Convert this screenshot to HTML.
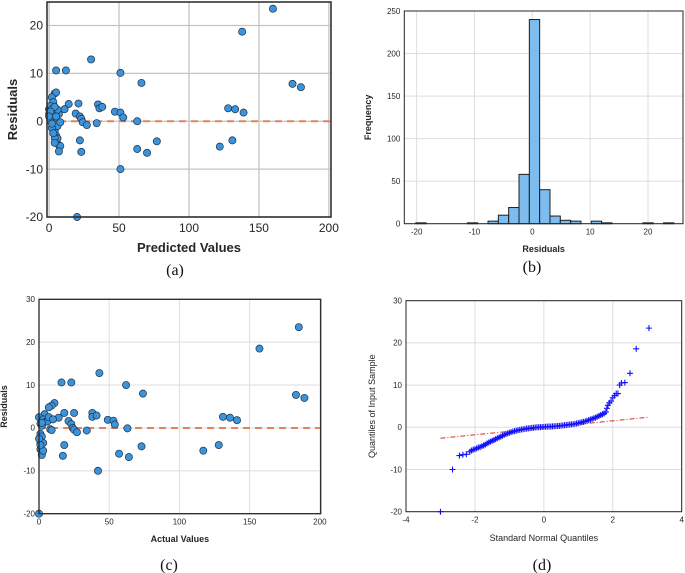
<!DOCTYPE html>
<html><head><meta charset="utf-8"><style>
body{margin:0;background:#fff;width:685px;height:573px;overflow:hidden}
svg{display:block;font-family:"Liberation Sans",sans-serif}
</style></head><body>
<svg id="fig" width="685" height="573" viewBox="0 0 685 573"></svg>
<script>
// Panel (a): predicted vs residuals
const aPred=[160,138,30,5,12,51,66,174,180,4,5,2,3,14,21,35,36,38,11,47,51,53,19,22,23,24,27,34,63,128,133,139,0,1,2,1,3,4,5,5,6,7,8,7,6,8,7,6,3,2,4,22,23,63,70,77,122,131,51,20,0,1,2,5,4,1,3,2,0,4];
const aRes=[23.5,18.7,12.9,10.6,10.6,10.1,8,7.8,7.1,5.8,6,5,4,3.6,3.7,3.5,2.7,3,2.5,2,1.8,0.8,1.6,1,0.5,-0.2,-0.8,-0.4,0,2.7,2.5,1.8,2.5,3.2,1.5,1,-1,-2,-3,-4,-3.6,-5,-5.2,-6.3,-1,-0.2,1.5,2.4,0.5,-1.4,-3.5,-4,-6.4,-5.8,-6.6,-4.2,-5.3,-4,-10,-20,1.5,0,2.5,1,3,2,-2.5,-0.5,1,-4.5];
// Panel (b): histogram
const binStart=-20.15;
const binWidth=1.785;
const binCounts=[1,0,0,0,0,1,0,3,10,19,58,240,40,9,4,3,0,3,1,0,0,0,1,0,1];
// Panel (c): actual vs residuals
const cAct=[185,157,43,16,23,62,74,183,189,11,9,7,4,18,25,38,38,41,14,49,53,54,21,23,24,25,27,34,63,131,136,141,0,1,2,3,5,8,9,1,1,1,2,3,3,2,18,17,57,64,73,117,128,42,0,6,7,10,0,1,2];
const cRes=[23.5,18.5,12.8,10.6,10.6,10,8,7.7,7,5.8,5.2,4.8,3.2,3.5,3.5,3.5,2.6,2.9,2.4,1.9,1.7,0.8,1.6,0.9,0,-0.4,-1,-0.6,-0.1,2.6,2.4,1.8,2.5,1,0.5,2,1.5,-0.3,-0.5,-1.4,-3.7,-5,-6.3,-5.3,-3.5,-2,-4,-6.5,-6,-6.8,-4.3,-5.3,-4,-10,-20,1.5,2.5,2,-2.5,-4,1.2];
// Panel (d): QQ plot
const qX=[-3,-2.65,-2.45,-2.35,-2.25,-2.15,-2.1,-2.05,-2.0,-1.95,-1.9,-1.85,-1.8,-1.75,-1.7,-1.65,-1.6,-1.55,-1.5,-1.45,-1.4,-1.35,-1.3,-1.25,-1.2,-1.15,-1.1,-1.05,-1.0,-0.95,-0.9,-0.85,-0.8,-0.75,-0.7,-0.65,-0.6,-0.55,-0.5,-0.45,-0.4,-0.35,-0.3,-0.25,-0.2,-0.15,-0.1,-0.05,0,0.05,0.1,0.15,0.2,0.25,0.3,0.35,0.4,0.45,0.5,0.55,0.6,0.65,0.7,0.75,0.8,0.85,0.9,0.95,1.0,1.05,1.1,1.15,1.2,1.25,1.3,1.35,1.4,1.45,1.5,1.55,1.6,1.65,1.7,1.75,1.8,1.83,1.86,1.9,1.95,2.0,2.05,2.1,2.15,2.2,2.25,2.35,2.5,2.68,3.05];
const qY=[-20,-10,-6.7,-6.5,-6.4,-5.8,-5.5,-5.3,-5.2,-5.0,-4.8,-4.7,-4.5,-4.3,-4.1,-3.8,-3.6,-3.4,-3.2,-3.0,-2.8,-2.6,-2.4,-2.2,-2.0,-1.8,-1.6,-1.45,-1.3,-1.15,-1.0,-0.9,-0.8,-0.7,-0.6,-0.52,-0.45,-0.37,-0.3,-0.25,-0.2,-0.15,-0.1,-0.05,0,0.02,0.05,0.08,0.1,0.12,0.15,0.18,0.2,0.22,0.25,0.28,0.3,0.35,0.4,0.45,0.5,0.55,0.6,0.65,0.7,0.75,0.8,0.9,1.0,1.1,1.2,1.3,1.4,1.55,1.7,1.85,2.0,2.15,2.3,2.5,2.7,2.9,3.1,3.3,3.6,4.5,5.2,5.8,6.2,7,7.5,8,8,10,10.5,10.6,12.8,18.6,23.5];
const qLineX=[-3,3.05];
const qLineY=[-2.6,2.4];

const NS='http://www.w3.org/2000/svg';
const svg=document.getElementById('fig');
function mk(tag,attrs,parent){const e=document.createElementNS(NS,tag);for(const k in attrs)e.setAttribute(k,attrs[k]);(parent||svg).appendChild(e);return e;}
function txt(s,attrs,parent){const e=mk('text',attrs,parent);e.textContent=s;return e;}
function scale(d0,d1,r0,r1){return v=>r0+(v-d0)/(d1-d0)*(r1-r0);}

function axes(o){
  const g=mk('g',{});
  
  
  const sx=scale(o.xd[0],o.xd[1],o.L,o.R), sy=scale(o.yd[0],o.yd[1],o.B,o.T);
  o.xt.forEach(t=>{if(o.grid){const l=mk('line',{x1:sx(t),x2:sx(t),y1:o.T,y2:o.B,stroke:o.gc,'stroke-width':o.gw},g);}
    const tl=txt(String(t),{x:sx(t),y:o.B+o.fs+3,'font-size':o.fs,'text-anchor':'middle',fill:'#262626'},g);});
  o.yt.forEach(t=>{if(o.grid){const l=mk('line',{x1:o.L,x2:o.R,y1:sy(t),y2:sy(t),stroke:o.gc,'stroke-width':o.gw},g);}
    const tl=txt(String(t),{x:o.L-4,y:sy(t)+o.fs*0.35,'font-size':o.fs,'text-anchor':'end',fill:'#262626'},g);});
  const xl=txt(o.xlabel,{x:(o.L+o.R)/2,y:o.xly,'font-size':o.lfs,'font-weight':o.bold?'bold':'normal','text-anchor':'middle',fill:'#262626'},g);
  
  const yl=txt(o.ylabel,{x:0,y:0,transform:`translate(${o.ylx},${(o.T+o.B)/2}) rotate(-90)`,'font-size':o.lfs,'font-weight':o.bold?'bold':'normal','text-anchor':'middle',fill:'#262626'},g);
  
  const cap=txt(o.cap,{x:o.capx,y:o.capy,'font-size':16,'font-family':'Liberation Serif, serif','text-anchor':'middle',fill:'#111'},g);
  
  return {g,sx,sy,box:()=>{const b=mk('rect',{x:o.L,y:o.T,width:o.R-o.L,height:o.B-o.T,fill:'none',stroke:'#262626','stroke-width':o.bw||1},g);}};
}

// (a)
const A=axes({name:'panel-a-predicted-residuals',L:47,R:331,T:2,B:217,xd:[-1.5,201.5],yd:[-20,24.9],xt:[0,50,100,150,200],yt:[-20,-10,0,10,20],grid:true,gc:'#c4c4c4',gw:1.3,fs:12,lfs:13,bold:true,xlabel:'Predicted Values',ylabel:'Residuals',xly:252,ylx:17,cap:'(a)',capx:175,capy:275,bw:1.5});
{const l=mk('line',{x1:47,x2:331,y1:A.sy(0),y2:A.sy(0),stroke:'#e8815a','stroke-width':2,'stroke-dasharray':'7,5'},A.g);}
aPred.forEach((p,i)=>{const c=mk('circle',{cx:A.sx(p),cy:A.sy(aRes[i]),r:3.6,fill:'#3b93dc',stroke:'#1d3347','stroke-width':0.7},A.g);});
A.box();

// (b)
const B=axes({name:'panel-b-histogram',L:404.3,R:683,T:11,B:223.7,xd:[-22.13,26.05],yd:[0,250],xt:[-20,-10,0,10,20],yt:[0,50,100,150,200,250],grid:true,gc:'#dedede',gw:1,fs:8,lfs:9,bold:true,xlabel:'Residuals',ylabel:'Frequency',xly:252,ylx:371,cap:'(b)',capx:532,capy:272});
binCounts.forEach((n,k)=>{if(n<=0)return;const x0=B.sx(binStart+k*binWidth),x1=B.sx(binStart+(k+1)*binWidth);
  const r=mk('rect',{x:x0,y:B.sy(n),width:x1-x0,height:B.sy(0)-B.sy(n),fill:'#7dbcee',stroke:'#1e1e1e','stroke-width':1},B.g);});
B.box();

// (c)
const C=axes({name:'panel-c-actual-residuals',L:39,R:320.7,T:299.3,B:513.7,xd:[0,200.6],yd:[-20,30],xt:[0,50,100,150,200],yt:[-20,-10,0,10,20,30],grid:true,gc:'#dedede',gw:1,fs:8,lfs:9,bold:true,xlabel:'Actual Values',ylabel:'Residuals',xly:542,ylx:7,cap:'(c)',capx:169,capy:570,bw:1.3});
{const l=mk('line',{x1:39,x2:320.7,y1:C.sy(0),y2:C.sy(0),stroke:'#e8815a','stroke-width':2,'stroke-dasharray':'7,5'},C.g);}
cAct.forEach((p,i)=>{const c=mk('circle',{cx:C.sx(p),cy:C.sy(cRes[i]),r:3.6,fill:'#3b93dc',stroke:'#1d3347','stroke-width':0.7},C.g);});
C.box();

// (d)
const D=axes({name:'panel-d-qq-plot',L:406,R:681.7,T:300.7,B:511.7,xd:[-4,4],yd:[-20,30],xt:[-4,-2,0,2,4],yt:[-20,-10,0,10,20,30],grid:true,gc:'#dedede',gw:1,fs:8,lfs:9,bold:false,xlabel:'Standard Normal Quantiles',ylabel:'Quantiles of Input Sample',xly:541,ylx:375,cap:'(d)',capx:542,capy:570});
{const l=mk('line',{x1:D.sx(qLineX[0]),x2:D.sx(qLineX[1]),y1:D.sy(qLineY[0]),y2:D.sy(qLineY[1]),stroke:'#e03020','stroke-width':1,'stroke-dasharray':'5,2,1,2'},D.g);}
qX.forEach((x,i)=>{const px=D.sx(x),py=D.sy(qY[i]);
  const p=mk('path',{d:`M${px-3},${py}H${px+3}M${px},${py-3}V${py+3}`,stroke:'#1010ff','stroke-width':1.1,fill:'none'},D.g);});
D.box();
</script>
</body></html>
